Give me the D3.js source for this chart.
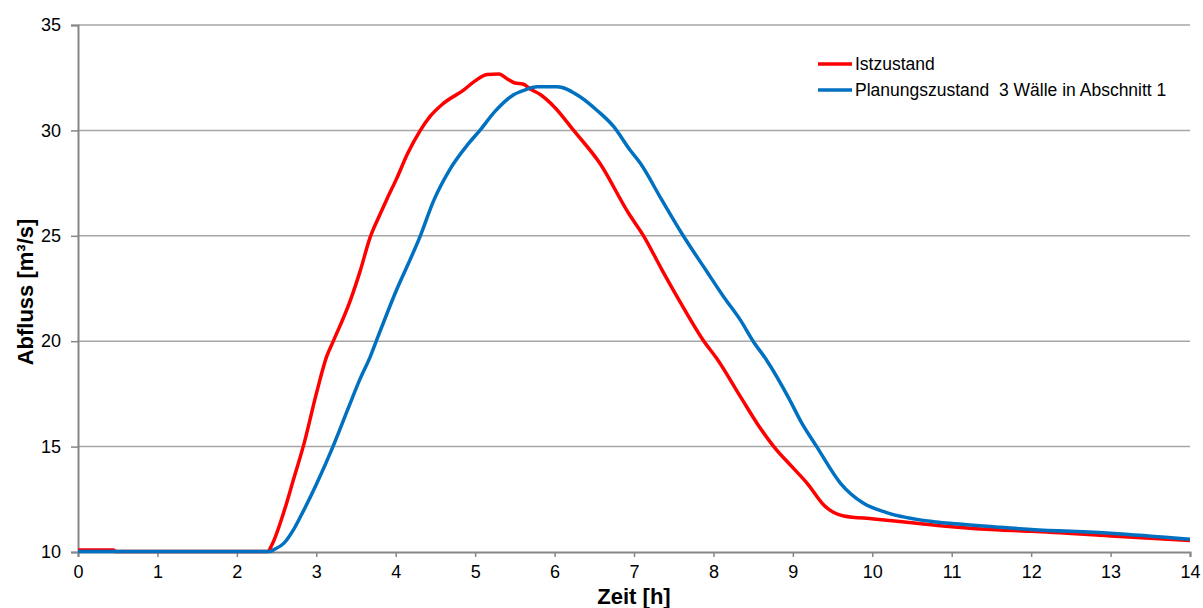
<!DOCTYPE html>
<html>
<head>
<meta charset="utf-8">
<title>Abfluss</title>
<script src="https://cdn.jsdelivr.net/npm/d3@7"></script>
<style>
body {
	margin: 0;
	background: #fff;
	font-family: 'Liberation Sans', Arial, sans-serif;
}
svg {
	display: block;
}
</style>
</head>
<body>
<svg width="1203" height="608"></svg>
<script>
// Istzustand [Zeit h, Abfluss m3/s]
var istzustand = [
	[0, 10.1], [0.45, 10.1], [0.47, 10.02], [2.39, 10.02], [2.44, 10.33], [2.6, 12.0],
	[2.71, 13.4], [2.85, 15.2], [3.0, 17.5], [3.13, 19.27], [3.22, 20.05], [3.43, 21.95],
	[3.55, 23.3], [3.68, 24.95], [3.8, 26.0], [3.89, 26.75], [4.01, 27.7], [4.15, 28.9],
	[4.31, 30.0], [4.43, 30.65], [4.6, 31.28], [4.85, 31.9], [5.0, 32.35], [5.15, 32.65],
	[5.3, 32.68], [5.4, 32.45], [5.5, 32.25], [5.6, 32.2], [5.7, 31.95], [5.82, 31.7],
	[6.0, 31.1], [6.24, 30.0], [6.57, 28.44], [6.93, 26.08], [7.12, 25.0], [7.35, 23.4],
	[7.58, 21.87], [7.88, 20.0], [8.04, 19.19], [8.34, 17.37], [8.55, 16.1], [8.76, 15.0],
	[9.0, 14.0], [9.18, 13.26], [9.41, 12.15], [9.64, 11.71], [10.02, 11.57], [10.77, 11.28],
	[11.0, 11.2], [11.61, 11.04], [12.0, 10.98], [13.0, 10.76], [14.0, 10.54]
];

// Planungszustand 3 Waelle in Abschnitt 1
var planungszustand = [
	[0, 10.02], [2.42, 10.02], [2.46, 10.1], [2.59, 10.41], [2.71, 11.04], [2.8, 11.67],
	[3.0, 13.2], [3.21, 15.0], [3.4, 16.8], [3.55, 18.2], [3.68, 19.27], [3.76, 20.05],
	[4.01, 22.43], [4.22, 24.2], [4.31, 25.0], [4.47, 26.6], [4.69, 28.2], [4.9, 29.3],
	[5.06, 30.0], [5.25, 30.9], [5.48, 31.68], [5.65, 31.95], [5.78, 32.07], [6.03, 32.07],
	[6.32, 31.6], [6.55, 30.9], [6.74, 30.2], [6.95, 29.07], [7.08, 28.44], [7.35, 26.7],
	[7.62, 25.0], [7.9, 23.4], [8.13, 22.1], [8.34, 21.0], [8.5, 20.0], [8.67, 19.1],
	[8.95, 17.29], [9.1, 16.2], [9.3, 15.0], [9.6, 13.26], [9.89, 12.31], [10.18, 11.87],
	[10.77, 11.44], [10.98, 11.36], [11.61, 11.17], [12.0, 11.07], [13.0, 10.89], [14.0, 10.6]
];

var xTicks = [0, 1, 2, 3, 4, 5, 6, 7, 8, 9, 10, 11, 12, 13, 14];
var yTicks = [10, 15, 20, 25, 30, 35];
var seriesNames = ["Istzustand", "Planungszustand  3 Wälle in Abschnitt 1"];
var seriesColors = ["#ff0000", "#0070c0"];

var svg = d3.select("svg");
var margin = {left: 78, right: 13, top: 25, bottom: 56};
var width = 1203 - margin.left - margin.right;
var height = 608 - margin.top - margin.bottom;

var x = d3.scaleLinear().domain([0, 14]).range([0, width]);
var y = d3.scaleLinear().domain([10, 35]).range([height, 0]);

var g = svg.append("g").attr("transform", "translate(" + margin.left + "," + margin.top + ")");

// horizontal grid lines
g.selectAll(".grid")
	.data(yTicks.filter(function(d) { return d > 10; }))
	.enter()
	.append("line")
	.attr("x1", 0)
	.attr("x2", width)
	.attr("y1", function(d) { return y(d); })
	.attr("y2", function(d) { return y(d); })
	.attr("stroke", "#a6a6a6")
	.attr("stroke-width", 1.5);

// y axis
var yAxis = g.append("g")
	.call(d3.axisLeft(y).tickValues(yTicks).tickSize(7).tickPadding(10));
// x axis
var xAxis = g.append("g")
	.attr("transform", "translate(0," + height + ")")
	.call(d3.axisBottom(x).tickValues(xTicks).tickSize(5).tickPadding(8));

[xAxis, yAxis].forEach(function(ax) {
	ax.select(".domain").attr("stroke", "#868686").attr("stroke-width", 2);
	ax.selectAll(".tick line").attr("stroke", "#868686").attr("stroke-width", 1.5);
	ax.selectAll(".tick text")
		.attr("fill", "#000")
		.style("font-family", "'Liberation Sans', Arial, sans-serif")
		.style("font-size", "18px");
});

// lines
var line = d3.line()
	.curve(d3.curveMonotoneX)
	.x(function(d) { return x(d[0]); })
	.y(function(d) { return y(d[1]); });

[istzustand, planungszustand].forEach(function(data, i) {
	g.append("path")
		.datum(data)
		.attr("d", line)
		.attr("fill", "none")
		.attr("stroke", seriesColors[i])
		.attr("stroke-width", 3.5)
		.attr("stroke-linejoin", "round");
});

// axis titles
svg.append("text")
	.attr("x", 634)
	.attr("y", 604)
	.attr("text-anchor", "middle")
	.style("font-size", "22px")
	.style("font-weight", "bold")
	.text("Zeit [h]");

svg.append("text")
	.attr("transform", "translate(33,292) rotate(-90)")
	.attr("text-anchor", "middle")
	.style("font-size", "22px")
	.style("font-weight", "bold")
	.text("Abfluss [m³/s]");

// legend
var legend = svg.append("g").attr("transform", "translate(818,64)");
seriesNames.forEach(function(name, i) {
	legend.append("line")
		.attr("x1", 0)
		.attr("x2", 34)
		.attr("y1", i * 26)
		.attr("y2", i * 26)
		.attr("stroke", seriesColors[i])
		.attr("stroke-width", 3.5);
	legend.append("text")
		.attr("x", 37)
		.attr("y", i * 26 + 6)
		.style("font-size", "17.5px")
		.style("white-space", "pre")
		.text(name);
});
</script>
</body>
</html>
